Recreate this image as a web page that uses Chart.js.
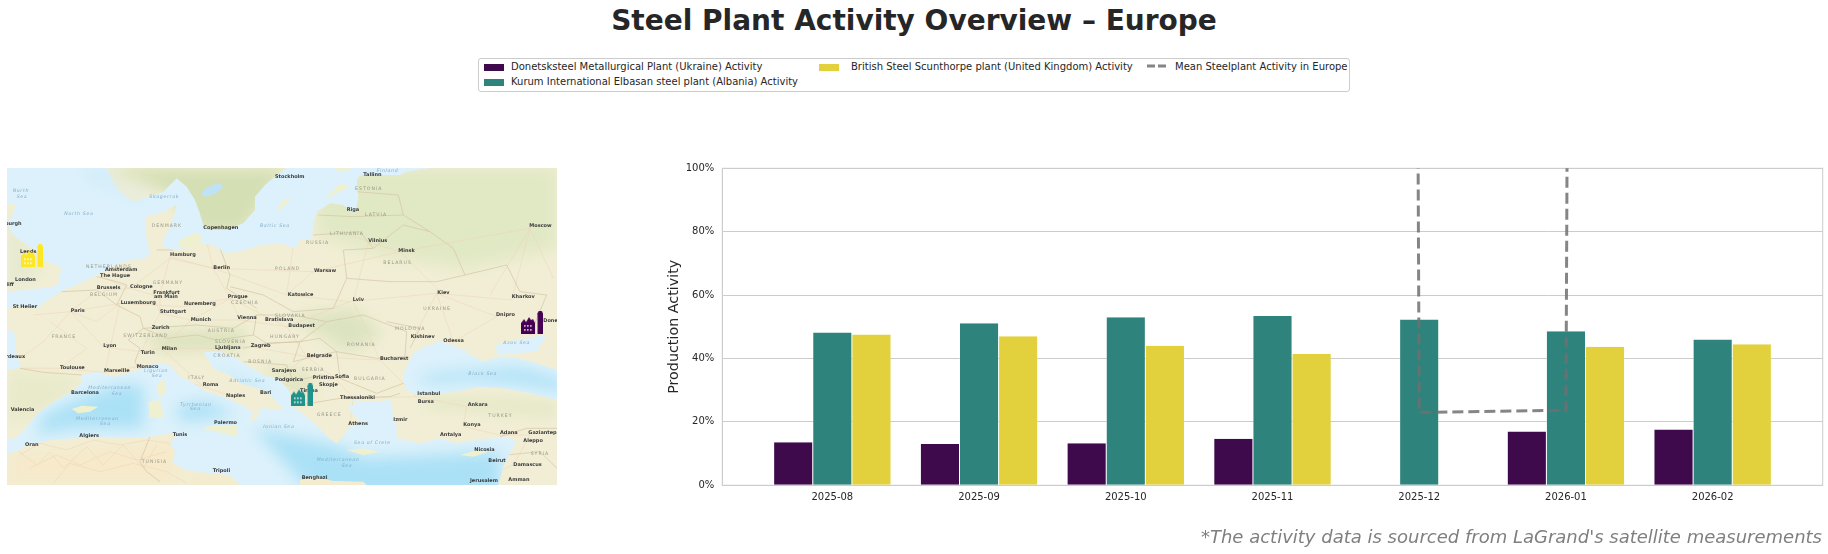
<!DOCTYPE html>
<html>
<head>
<meta charset="utf-8">
<title>Steel Plant Activity Overview – Europe</title>
<script src="https://cdn.jsdelivr.net/npm/chart.js@4"></script>
<style>
  html, body { margin: 0; padding: 0; background: #fff; }
  body { width: 1828px; height: 554px; position: relative; overflow: hidden;
         font-family: "DejaVu Sans", sans-serif; color: #262626; }
  .abs { position: absolute; }
  #titulo { left: 0; width: 1828px; top: 4px; text-align: center; font-size: 28px; font-weight: bold; white-space: nowrap; }
  #leyenda { left: 478px; top: 58px; width: 872px; height: 34px; border: 1px solid #ccc; border-radius: 3px; box-sizing: border-box; }
  .item { position: absolute; font-size: 10px; line-height: 14px; white-space: nowrap; }
  .muestra { position: absolute; width: 20px; height: 7px; }
  #nota { right: 6px; top: 526px; font-size: 18px; font-style: italic; color: #7f7f7f; white-space: nowrap; }
  #mapa { left: 0; top: 0; filter: blur(.45px); }
  #plantas { left: 7px; top: 168px; }
  #grafico { left: 660px; top: 150px; }
  .ciudad { font: bold 15px "DejaVu Sans"; fill: #3a3a3a; }
  .pais { font: 14px "DejaVu Sans"; fill: #9a9a8a; letter-spacing: 3px; }
  .mar { font: italic 14px "DejaVu Sans"; fill: #86adc8; letter-spacing: 2px; }
  .frontera { fill: none; stroke: #d6c7a8; stroke-width: 2.2; }
  .ruta { fill: none; stroke: #f0d3ba; stroke-width: 1.6; }
</style>
</head>
<body>
<div id="titulo" class="abs">Steel Plant Activity Overview – Europe</div>
<div id="leyenda" class="abs"></div>

<svg id="mapa" class="abs" width="570" height="495" viewBox="0 0 570 495">
  <defs>
    <clipPath id="marco"><rect x="21" y="99" width="1650" height="951"/></clipPath>
    <filter id="difuso" x="-30%" y="-30%" width="160%" height="160%"><feGaussianBlur stdDeviation="22"/></filter>
    <clipPath id="aguas"><use href="#agua-med"/><use href="#agua-negro"/></clipPath>
    <polygon id="agua-med" points="21,912 50,910 60,895 85,870 108,840 125,825 170,795 210,773 245,745 245,720 290,710 340,725 385,715 415,705 460,685 510,690 540,725 580,745 620,770 670,785 735,815 760,835 745,868 770,850 785,815 815,825 850,822 800,770 760,755 720,745 690,720 640,700 610,650 660,650 700,665 740,690 790,720 840,735 870,770 872,800 885,820 925,850 960,880 985,910 1010,925 1030,905 1045,880 1085,860 1050,830 1045,815 1075,805 1050,795 1110,800 1170,795 1175,810 1180,850 1190,880 1190,910 1260,925 1320,910 1370,925 1430,915 1520,905 1550,920 1530,955 1510,995 1495,1050 1100,1050 1090,1040 1000,1038 945,1025 900,1035 900,1050 720,1050 690,1020 630,1015 560,1005 520,985 525,950 510,920 530,900 510,895 450,905 380,910 300,905 230,910 150,915 70,935 50,950 21,955"/>
    <polygon id="agua-negro" points="1320,618 1275,635 1245,650 1230,675 1215,705 1210,735 1220,765 1250,780 1320,775 1370,770 1435,755 1510,760 1590,775 1671,795 1671,705 1610,685 1540,665 1495,665 1450,680 1390,648 1435,640 1390,645 1340,625"/>
  </defs>
  <g transform="translate(0,135) scale(.33333)" clip-path="url(#marco)">
    <rect x="21" y="99" width="1650" height="951" fill="#f1eed5"/>
    <!-- relieve -->
    <g filter="url(#difuso)">
      <polygon fill="#d4dfb4" points="320,99 860,99 730,290 600,290 500,170"/>
      <polygon fill="#e1e8c4" points="950,99 1671,99 1671,340 1390,400 1150,360 950,300"/>
      <polygon fill="#e6ead0" points="21,210 60,300 130,400 90,440 21,450"/>
      <polygon fill="#d9e1ba" points="430,600 740,585 720,640 480,645"/>
      <polygon fill="#dce3bf" points="870,545 1060,520 1150,600 1040,650 980,610"/>
      <polygon fill="#e1e5c3" points="780,690 950,720 925,800 840,750"/>
      <polygon fill="#e0e6c2" points="1250,785 1671,805 1671,840 1300,815"/>
      <polygon fill="#e8eaca" points="21,705 250,730 200,790 80,850 21,860"/>
      <polygon fill="#f6eaca" points="21,960 530,910 530,1050 21,1050"/>
      <polygon fill="#f6eaca" points="560,1020 1500,1035 1500,1060 560,1060"/>
    </g>
    <!-- caminos -->
    <g class="ruta">
      <polyline points="60,960 120,925 200,945 280,915 360,930 440,915 510,925"/>
      <polyline points="90,1000 170,960 240,990 330,950 410,975 500,950"/>
      <polyline points="160,1045 210,985 300,1010 400,985 500,1010 560,1045"/>
      <polyline points="50,945 110,990 150,950 190,1000 260,935 310,990 370,930 430,1000 470,930"/>
      <polyline points="210,530 290,470 390,460 510,370 640,400 940,410 1200,350 1590,280"/>
      <polyline points="212,530 310,635 420,650 485,640 640,640 750,635 920,665 1140,675"/>
      <polyline points="212,530 360,505 550,515 690,490 860,575 1050,500 1310,475 1535,495 1590,280"/>
      <polyline points="60,700 180,700 315,712 410,695 520,730 610,755 700,785"/>
      <polyline points="1250,785 1400,815 1390,875 1500,900 1590,900 1540,990 1420,1040"/>
      <polyline points="1310,475 1490,545 1360,620"/>
      <polyline points="690,490 720,555 860,575 920,665 1005,730 1060,790 1050,865"/>
      <polyline points="510,365 480,480 480,535 570,555 720,555"/>
      <polyline points="150,560 260,640 180,700"/>
      <polyline points="940,410 860,480 1050,500"/>
      <polyline points="1100,320 1200,350 1320,470"/>
      <polyline points="100,540 212,530 130,620 60,670"/>
      <polyline points="212,530 290,560 360,505 330,640 315,712"/>
      <polyline points="300,425 390,460 460,480 480,535 455,580 422,656"/>
      <polyline points="510,365 640,400 690,490 572,557 485,640 610,755"/>
      <polyline points="620,320 640,400 860,480 880,330"/>
      <polyline points="1050,300 1105,320 1060,500 1140,675"/>
      <polyline points="1240,610 1310,475 1360,620"/>
      <polyline points="1140,675 1250,785 1060,790"/>
      <polyline points="920,665 860,710 825,738 920,770"/>
      <polyline points="1470,480 1590,280 1660,430"/>
    </g>
    <!-- fronteras -->
    <g class="frontera">
      <polyline points="185,470 290,465 350,510 420,545 430,580 385,615 420,640 405,680 415,700"/>
      <polyline points="60,700 130,712 245,720"/>
      <polyline points="290,425 350,440 380,450 350,510"/>
      <polyline points="470,345 520,345"/>
      <polyline points="660,340 690,420 680,460 770,520"/>
      <polyline points="690,455 790,480 880,530 1000,520 1040,430 1030,345 1120,340 1210,270 1290,290 1360,340 1395,420"/>
      <polyline points="1040,430 1170,440 1310,440 1395,420 1520,390 1560,470 1640,480 1590,600"/>
      <polyline points="955,240 1060,245 1210,240 1195,180 1070,170"/>
      <polyline points="940,300 1080,290 1120,340"/>
      <polyline points="1210,240 1290,290"/>
      <polyline points="430,580 590,570 700,580 770,540 760,600 650,615 590,600 500,610 430,580"/>
      <polyline points="770,540 880,540 980,560 900,620 800,625 760,600"/>
      <polyline points="980,560 1090,540 1220,590 1215,665 1130,670 1010,650 960,610 900,620"/>
      <polyline points="1160,560 1260,580 1230,640"/>
      <polyline points="1010,650 1020,730 1130,775 1210,745"/>
      <polyline points="730,640 800,625 900,620 880,680 960,660 1010,650"/>
      <polyline points="730,680 860,690 880,740 960,720 1020,730"/>
      <polyline points="900,810 1020,790 1170,785 1200,775"/>
      <polyline points="1500,905 1580,880 1671,880"/>
      <polyline points="1520,960 1620,950 1671,1000"/>
      <polyline points="450,905 420,980 440,1010 480,1040"/>
    </g>
    <!-- mares -->
    <g fill="#dcf1fb">
      <polygon points="21,99 320,99 340,145 370,180 400,200 450,185 490,170 530,130 560,155 585,195 598,230 610,270 625,285 680,285 730,265 765,225 765,185 795,150 825,125 860,99 1290,99 1220,110 1200,120 1085,120 1070,135 1075,190 1065,235 1030,210 990,205 950,230 940,265 935,315 900,315 885,340 845,325 780,330 735,345 680,355 640,330 600,325 560,340 520,345 490,335 490,315 505,285 520,250 530,210 480,235 435,245 440,315 450,355 435,370 395,375 345,390 320,405 290,420 250,440 215,455 180,470 130,505 110,520 75,515 55,510 21,520 21,470 90,462 150,458 178,445 175,425 187,402 170,390 130,375 105,345 75,325 45,305 30,285 24,262 38,240 48,210 21,205"/>
      <polygon points="21,590 42,585 48,650 62,698 21,705"/>
      <use href="#agua-med"/>
      <use href="#agua-negro"/>
      <polygon points="1485,630 1550,615 1605,605 1640,600 1610,650 1540,655 1495,660"/>
    </g>
    <polygon fill="#c6e8f7" filter="url(#difuso)" opacity=".7" points="250,99 320,110 380,170 470,165 400,190 330,150 270,130"/>
    <g clip-path="url(#aguas)">
      <g fill="#abe1f6" filter="url(#difuso)">
        <polygon points="130,840 240,790 350,750 430,750 430,880 220,880 110,900"/>
        <polygon points="530,810 620,800 710,840 640,850 540,860"/>
        <polygon points="760,880 1000,930 1100,970 1290,960 1500,950 1500,1090 950,1090"/>
        <polygon points="640,700 780,760 840,800 800,780 680,730"/>
        <polygon points="1250,725 1360,710 1560,700 1690,735 1690,770 1560,745 1410,735 1280,745"/>
      </g>
    </g>
    <!-- islas -->
    <g fill="#eff0d0">
      <polygon points="540,315 580,295 605,300 600,330 560,340 535,335"/>
      <polygon points="825,230 850,195 875,190 845,220"/>
      <polygon points="975,190 1020,145 1050,155 1020,170 980,190"/>
      <polygon points="1005,99 1055,99 1040,107 1010,107"/>
      <polygon points="470,750 492,728 497,770 478,790"/>
      <polygon points="445,800 480,795 492,845 450,850"/>
      <polygon points="215,822 245,812 295,815 270,830 235,835"/>
      <polygon points="605,880 640,870 715,870 710,905 650,890"/>
      <polygon points="1040,945 1090,940 1140,950 1090,960"/>
      <polygon points="1380,960 1430,945 1465,950 1420,965"/>
    </g>
    <ellipse cx="637" cy="165" rx="34" ry="14" fill="#bfe3f5" transform="rotate(-25 637 165)"/>
    <g id="rotulos"></g>
  </g>
</svg>

<canvas id="plantas" class="abs" width="550" height="317"></canvas>
<canvas id="grafico" class="abs" width="1168" height="404"></canvas>
<div id="nota" class="abs">*The activity data is sourced from LaGrand's satellite measurements</div>

<script>
const meses = ["2025-08", "2025-09", "2025-10", "2025-11", "2025-12", "2026-01", "2026-02"];
const nombresPlantas = [
  "Donetsksteel Metallurgical Plant (Ukraine) Activity",
  "Kurum International Elbasan steel plant (Albania) Activity",
  "British Steel Scunthorpe plant (United Kingdom) Activity"
];
const nombreMedia = "Mean Steelplant Activity in Europe";

const donetsk = [13.6, 13.0, 13.3, 14.7, null, 17.0, 17.6];
const kurum = [48.2, 51.1, 53.0, 53.4, 52.3, 48.6, 46.0];
const british = [47.6, 47.0, 44.0, 41.4, null, 43.7, 44.5];
// the mean leaves the top of the axis everywhere except these two months
const media = [20000, 20000, 20000, 20000, 23.0, 23.7, 20000];

const coloresBarras = ["#3e0a4c", "#2e837c", "#e2d13c"];
const coloresIconos = ["#440154", "#21918c", "#fde725"];
const colorMedia = "rgba(112,112,112,0.85)";

const plantaLon = [37.4, 19.9, -0.65];
const plantaLat = [47.6, 41.1, 53.6];

const ciudades = [["Stockholm",825,128],["Tallinn",1090,123],["Riga",1040,228],["Vilnius",1105,320],["Minsk",1195,351],["Copenhagen",610,281],["Edinburgh",-22,270],["Leeds",60,354],["London",45,439],["Cardiff",-15,452],["Hamburg",510,362],["Berlin",640,402],["Amsterdam",315,408],["The Hague",300,425],["Brussels",290,462],["Cologne",390,459],["Frankfurt",460,477],["am Main",462,489],["Luxembourg",362,506],["Nuremberg",552,511],["Stuttgart",480,534],["Paris",212,531],["St Helier",38,520],["Prague",683,490],["Katowice",863,484],["Warsaw",942,412],["Lviv",1058,498],["Kiev",1312,476],["Vienna",712,553],["Bratislava",795,558],["Munich",572,557],["Zurich",455,581],["Budapest",865,577],["Kishinev",1232,610],["Odessa",1330,621],["Lyon",310,636],["Turin",422,656],["Milan",485,646],["Ljubljana",645,642],["Zagreb",752,637],["Belgrade",920,665],["Bucharest",1140,676],["Bordeaux",-5,669],["Toulouse",180,702],["Marseille",312,712],["Monaco",410,698],["Sarajevo",815,710],["Roma",608,754],["Podgorica",825,738],["Pristina",938,732],["Sofia",1005,730],["Skopje",957,752],["Tirana",900,772],["Thessaloniki",1020,792],["Istanbul",1252,781],["Bursa",1253,805],["Ankara",1403,812],["Izmir",1180,857],["Barcelona",213,776],["Naples",678,787],["Bari",780,777],["Valencia",32,828],["Palermo",642,866],["Athens",1045,870],["Algiers",238,905],["Oran",75,934],["Tunis",518,903],["Tripoli",638,1011],["Benghazi",905,1032],["Moscow",1588,275],["Kharkov",1535,490],["Dnipro",1488,543],["Donetsk",1630,560],["Konya",1390,873],["Antalya",1320,902],["Adana",1500,898],["Gaziantep",1585,897],["Aleppo",1570,920],["Nicosia",1423,947],["Beirut",1465,982],["Damascus",1540,993],["Jerusalem",1410,1040],["Amman",1525,1037]];
const paises = [["ESTONIA",1065,165],["LATVIA",1095,242],["LITHUANIA",990,300],["BELARUS",1150,387],["RUSSIA",918,326],["DENMARK",455,277],["NETHERLANDS",258,398],["BELGIUM",270,483],["GERMANY",458,446],["FRANCE",155,610],["CZECHIA",693,508],["POLAND",825,406],["UKRAINE",1270,526],["SLOVAKIA",825,546],["SWITZERLAND",370,607],["AUSTRIA",623,592],["HUNGARY",810,608],["MOLDOVA",1185,584],["ROMANIA",1040,634],["SLOVENIA",645,625],["CROATIA",640,665],["BOSNIA",745,684],["SERBIA",905,707],["ITALY",565,733],["BULGARIA",1062,736],["GREECE",950,842],["TUNISIA",425,985],["TURKEY",1465,846],["SYRIA",1592,960]];
const mares = [["Skagerrak",448,190],["North Sea",193,240],["North",38,170],["Sea",50,188],["Baltic Sea",780,275],["Finland",1130,110],["Ligurian",432,711],["Sea",455,725],["Adriatic Sea",688,742],["Mediterranean",265,763],["Sea",335,780],["Tyrrhenian",540,813],["Sea",570,826],["Mediterranean",228,855],["Sea",300,870],["Ionian Sea",790,878],["Mediterranean",950,978],["Sea",1025,997],["Sea of Crete",1062,928],["Black Sea",1405,720],["Azov Sea",1510,628]];

function ponerRotulos(lista, clase) {
  const capa = document.getElementById("rotulos");
  lista.forEach(([txt, x, y]) => {
    const t = document.createElementNS("http://www.w3.org/2000/svg", "text");
    t.setAttribute("x", x);
    t.setAttribute("y", y);
    t.setAttribute("class", clase);
    t.textContent = txt;
    capa.appendChild(t);
  });
}
ponerRotulos(paises, "pais");
ponerRotulos(mares, "mar");
ponerRotulos(ciudades, "ciudad");

// legend: matplotlib style, filled column by column
const leyenda = document.getElementById("leyenda");
const columnas = [[5, 32], [340, 372], [668, 696]];
const posLeyenda = [[0, 0], [0, 1], [1, 0]];
nombresPlantas.forEach((nombre, i) => {
  const [c, f] = posLeyenda[i];
  const top = 1 + f * 15;
  leyenda.insertAdjacentHTML("beforeend",
    `<span class="muestra" style="left:${columnas[c][0]}px;top:${top + 4}px;background:${coloresBarras[i]}"></span>` +
    `<span class="item" style="left:${columnas[c][1]}px;top:${top}px">${nombre}</span>`);
});
leyenda.insertAdjacentHTML("beforeend",
  `<svg class="abs" style="left:${columnas[2][0]}px;top:3px" width="22" height="8"><line x1="0" x2="20" y1="4" y2="4" stroke="${colorMedia}" stroke-width="3" stroke-dasharray="8 3"/></svg>` +
  `<span class="item" style="left:${columnas[2][1]}px;top:1px">${nombreMedia}</span>`);

function iconoFabrica(color) {
  const c = document.createElement("canvas");
  c.width = 22; c.height = 23;
  const g = c.getContext("2d");
  g.fillStyle = color;
  g.beginPath();
  g.moveTo(0, 23); g.lineTo(0, 12); g.lineTo(3, 8); g.lineTo(5, 11); g.lineTo(8, 6);
  g.lineTo(10, 9); g.lineTo(12, 8); g.lineTo(14, 12); g.lineTo(14, 23);
  g.closePath();
  g.fill();
  g.fillRect(16.5, 2, 5.5, 21);
  g.beginPath();
  g.arc(19.2, 2.5, 2.6, 0, 2 * Math.PI);
  g.fill();
  g.fillStyle = "rgba(255,255,255,.85)";
  [3, 6, 9].forEach(x => [14, 18].forEach(y => g.fillRect(x, y, 1.6, 1.6)));
  return c;
}

new Chart(document.getElementById("plantas"), {
  type: "scatter",
  data: {
    datasets: [{
      data: plantaLon.map((lon, i) => ({ x: lon, y: plantaLat[i] })),
      pointStyle: coloresIconos.map(iconoFabrica),
      clip: false
    }]
  },
  options: {
    responsive: false,
    animation: false,
    layout: { padding: 0, autoPadding: false },
    plugins: { legend: { display: false }, tooltip: { enabled: false } },
    scales: {
      x: { display: false, min: -2.55, max: 39.3 },
      y: { display: false, min: 33.0, max: 61.5 }
    }
  }
});

const marcoEjes = {
  id: "marcoEjes",
  beforeDatasetsDraw(chart) {
    const { ctx, chartArea: a } = chart;
    ctx.save();
    ctx.strokeStyle = "#cccccc";
    ctx.lineWidth = 1;
    ctx.strokeRect(a.left, a.top, a.right - a.left, a.bottom - a.top);
    ctx.restore();
  }
};

const puntos = serie => serie.map((v, i) => ({ x: i, y: v }));
const fuente = "'DejaVu Sans', sans-serif";
const bordeBarra = { left: 0.5, right: 0.5 };

new Chart(document.getElementById("grafico"), {
  type: "bar",
  data: {
    datasets: [
      { label: nombreMedia, type: "line", data: puntos(media), borderColor: colorMedia, borderWidth: 3,
        borderDash: [11, 5], pointRadius: 0, tension: 0, fill: false, order: 0 },
      { label: nombresPlantas[0], data: puntos(donetsk), backgroundColor: coloresBarras[0], borderColor: "#fff", borderWidth: bordeBarra, order: 1 },
      { label: nombresPlantas[1], data: puntos(kurum), backgroundColor: coloresBarras[1], borderColor: "#fff", borderWidth: bordeBarra, order: 1 },
      { label: nombresPlantas[2], data: puntos(british), backgroundColor: coloresBarras[2], borderColor: "#fff", borderWidth: bordeBarra, order: 1 }
    ]
  },
  options: {
    responsive: false,
    animation: false,
    layout: { padding: { top: 18.3, right: 5.3, left: 0, bottom: 0 } },
    datasets: { bar: { categoryPercentage: 0.8, barPercentage: 1 } },
    plugins: { legend: { display: false }, tooltip: { enabled: false } },
    scales: {
      x: {
        type: "linear",
        offset: false,
        min: -0.75,
        max: 6.75,
        grid: { display: false, drawTicks: false },
        border: { display: false },
        afterBuildTicks(axis) { axis.ticks = meses.map((m, i) => ({ value: i })); },
        afterFit(axis) { axis.height = 68.7; },
        ticks: {
          autoSkip: false,
          maxRotation: 0,
          padding: 6,
          color: "#262626",
          font: { family: fuente, size: 10 },
          callback: v => meses[v]
        }
      },
      y: {
        min: 0,
        max: 100,
        afterFit(axis) { axis.width = 62.3; },
        grid: { color: "#cccccc", lineWidth: 1, drawTicks: false },
        border: { color: "#cccccc" },
        title: { display: true, text: "Production Activity", color: "#262626", padding: 6,
                 font: { family: fuente, size: 14.3 } },
        ticks: {
          stepSize: 20,
          padding: 8,
          color: "#262626",
          font: { family: fuente, size: 10 },
          callback: v => v + "%"
        }
      }
    }
  },
  plugins: [marcoEjes]
});
</script>
</body>
</html>
